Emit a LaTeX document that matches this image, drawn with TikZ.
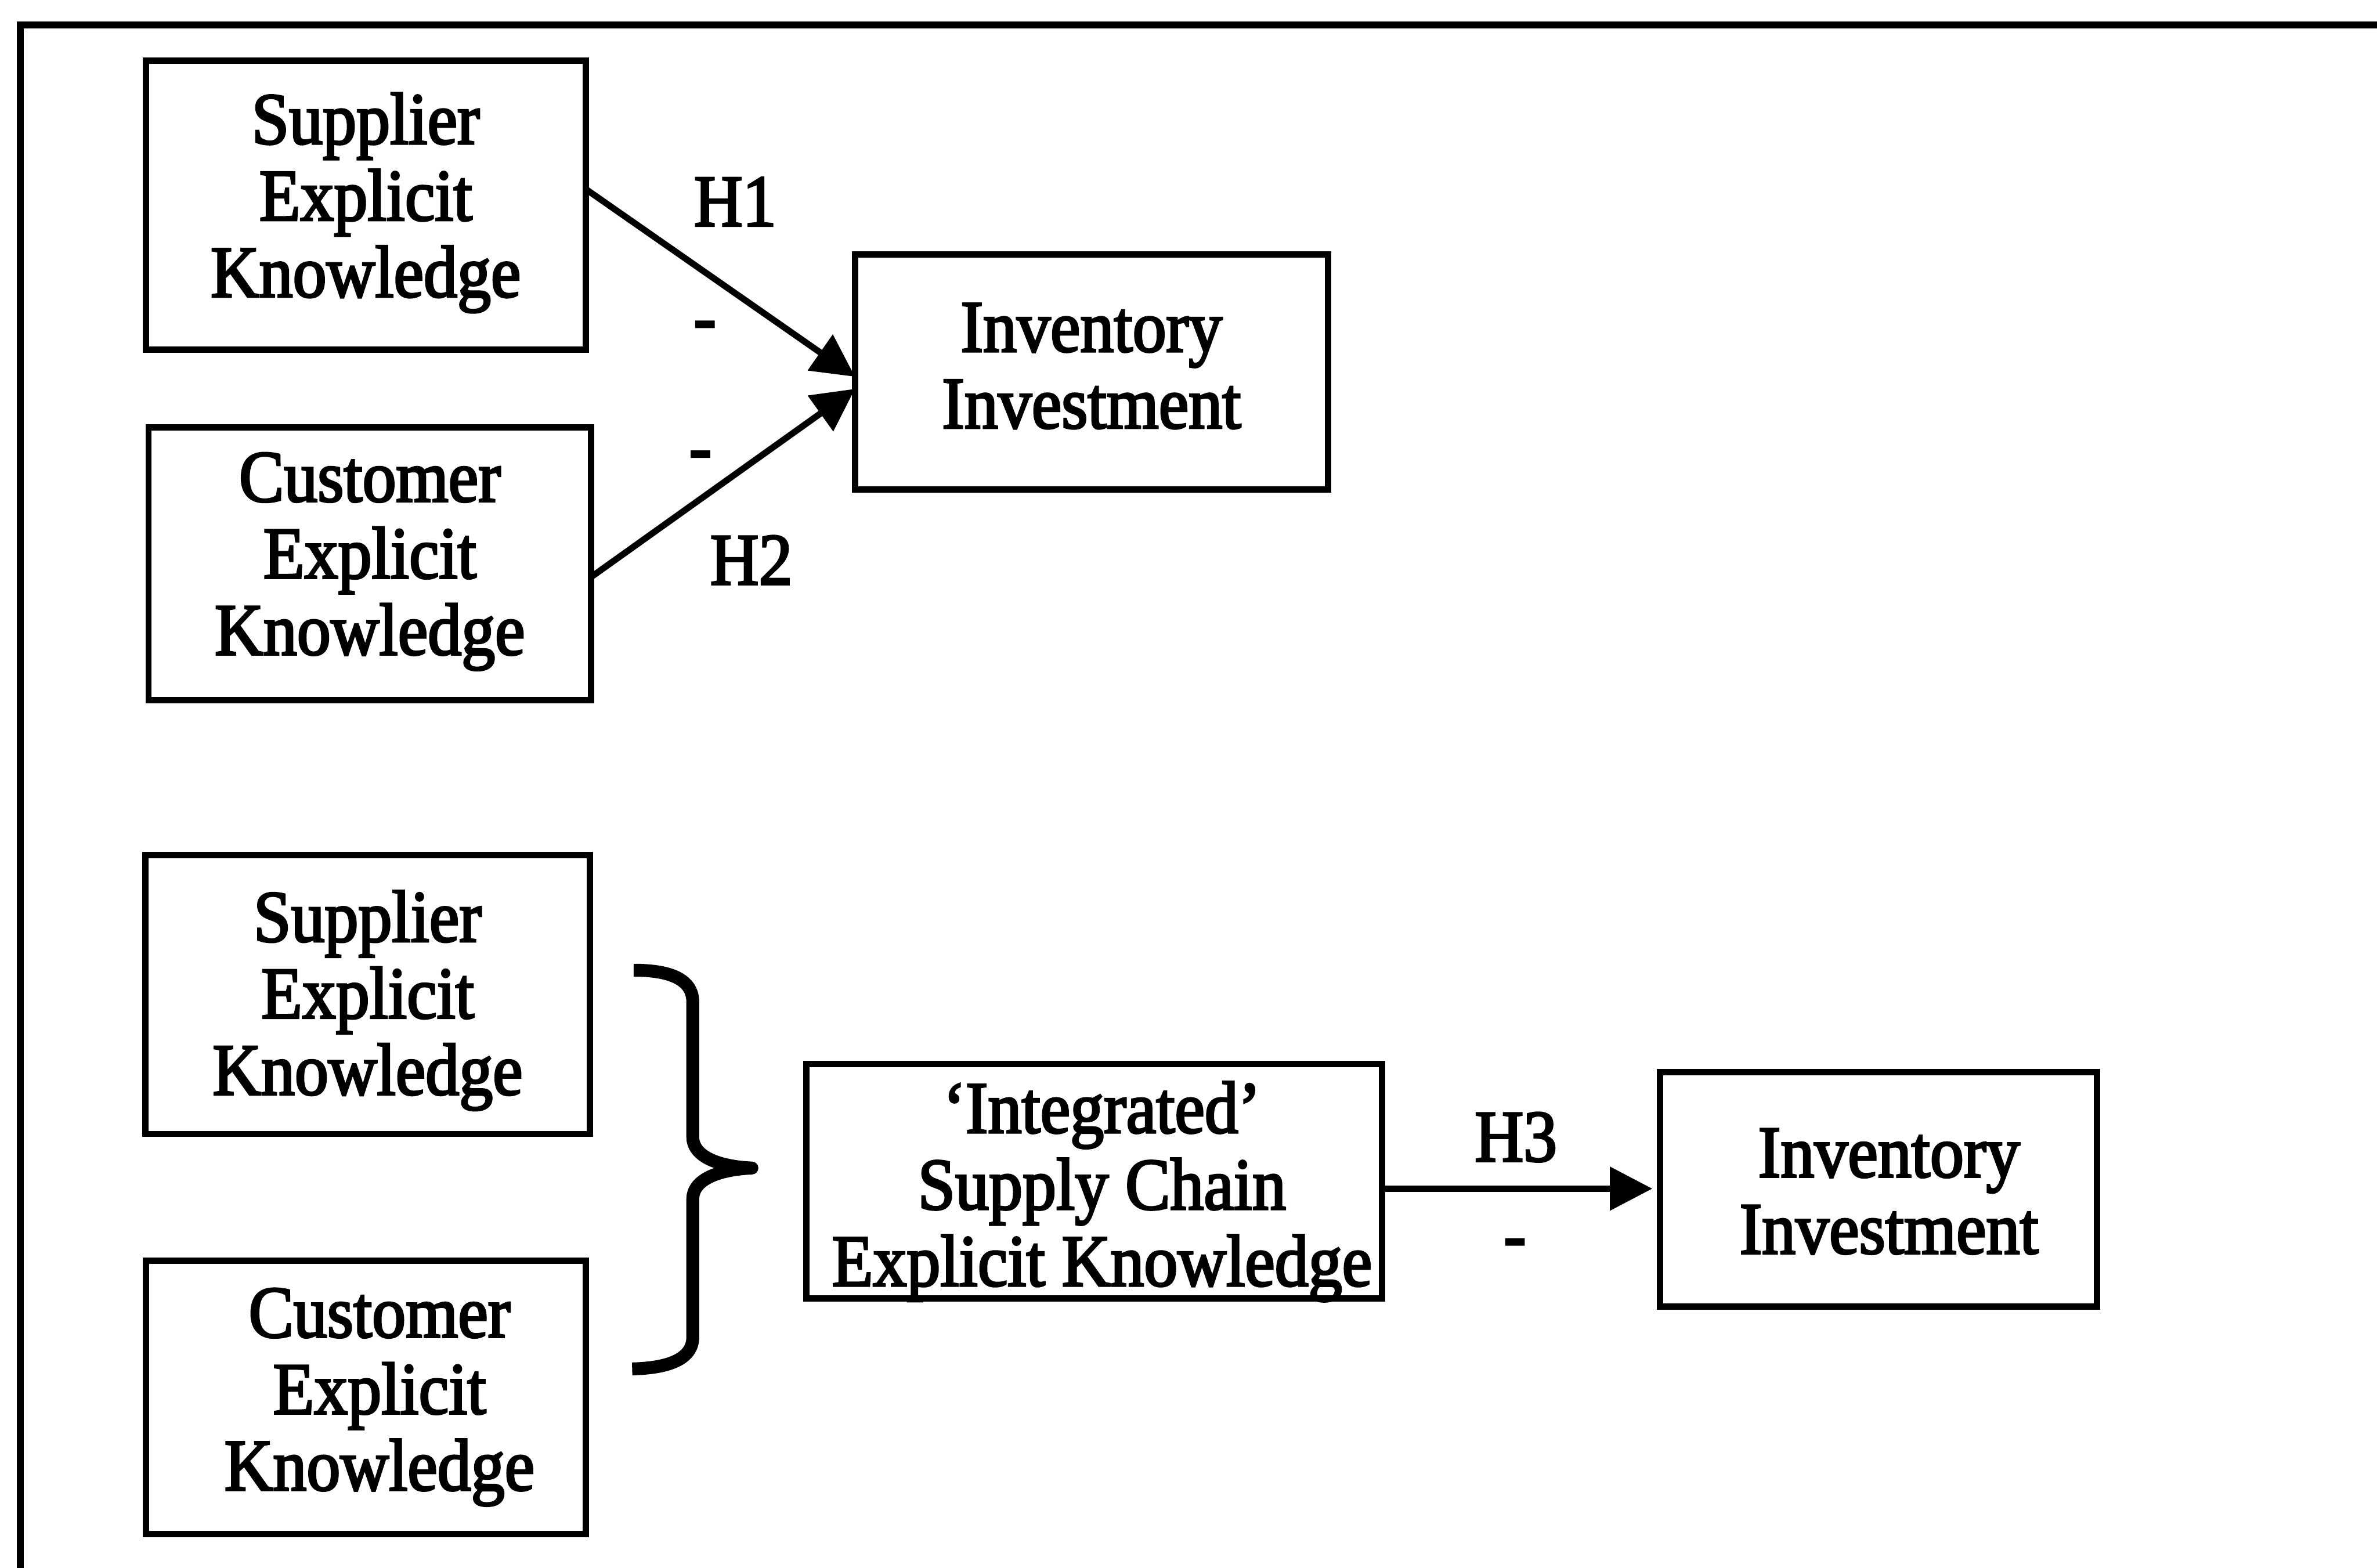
\documentclass[tikz,border=0pt]{standalone}
\usepackage{fontspec}
\setmainfont{Liberation Serif}[FakeStretch=0.915,FakeBold=2.8]
\usetikzlibrary{arrows.meta}
\begin{document}
\begin{tikzpicture}[x=1pt,y=-1pt,
  txt/.style={font=\fontsize{48.5}{50.5}\selectfont,inner sep=0pt,align=center},
  box/.style={draw,line width=4.2pt,inner sep=0pt,outer sep=0pt},
  lbl/.style={font=\fontsize{48.5}{50.5}\selectfont,inner sep=0pt,anchor=base},
  link/.style={line width=4.2pt,-{Triangle[length=28pt,width=28pt]}},
  frameline/.style={line width=4.8pt},
  bracestroke/.style={line width=8.5pt,line join=round}
]
\fill[white] (0,0) rectangle (1568,1034);
\useasboundingbox (0,0) rectangle (1568,1034);

% outer frame: top and left edges
\draw[frameline] (1575,16.5) -- (13.4,16.5) -- (13.4,1040);

% upper model: separate knowledge sources
\node[box,minimum width=290.3pt,minimum height=190.5pt] (sup1) at (241.25,135.25) {};
\node[txt] (sup1t) at ([yshift=1.5pt]sup1.center) {Supplier\\Explicit\\Knowledge};
\node[box,minimum width=292pt,minimum height=180pt] (cus1) at (244,372) {};
\node[txt] (cus1t) at ([yshift=1.5pt]cus1.center) {Customer\\Explicit\\Knowledge};
\node[box,minimum width=312pt,minimum height=155pt] (inv1) at (720,245.5) {};
\node[txt] (inv1t) at ([yshift=4pt]inv1.center) {Inventory\\Investment};

\draw[link] ([yshift=10.5pt]sup1.east) -- ([yshift=-3pt]inv1.west);
\draw[link] ([yshift=-8.6pt]cus1.east) -- ([yshift=-11pt]inv1.west);
\node[lbl] (h1) at (485,149) {H1};
\node[lbl] (h1s) at (465,225.4) {-};
\node[lbl] (h2s) at (462,311) {-};
\node[lbl] (h2) at (495.6,385.5) {H2};

% lower model: integrated knowledge
\node[box,minimum width=293pt,minimum height=184pt] (sup2) at (242.5,656) {};
\node[txt] (sup2t) at ([yshift=-4pt]sup2.center) {Supplier\\Explicit\\Knowledge};
\node[box,minimum width=290.3pt,minimum height=180.2pt] (cus2) at (241.35,921.7) {};
\node[txt] (cus2t) at ([xshift=9pt]cus2.center) {Customer\\Explicit\\Knowledge};
\node[box,minimum width=379.7pt,minimum height=154.8pt] (integ) at (721.9,779.1) {};
\node[txt] (integt) at ([xshift=5pt,yshift=-7pt]integ.center) {‘Integrated’\\Supply Chain\\Explicit Knowledge};
\node[box,minimum width=288.2pt,minimum height=154.9pt] (inv2) at (1239.1,784.5) {};
\node[txt] (inv2t) at ([xshift=7pt,yshift=-1.5pt]inv2.center) {Inventory\\Investment};

% brace joining the two sources
\draw[bracestroke] (418,640) .. controls (440,640) and (457,645) .. (457,661)
  -- (457,750) .. controls (457,763) and (474,769.5) .. (496,770.5)
  .. controls (474,771.5) and (457,778) .. (457,791)
  -- (457,882) .. controls (457,897) and (440,902.5) .. (417,903);

\coordinate (h3s) at ([yshift=-5pt]integ.east);
\coordinate (h3e) at (h3s -| inv2.west);
\draw[link,shorten >=5pt] (h3s) -- (h3e);
\node[lbl] (h3) at (1000,766) {H3};
\node[lbl] (h3m) at (999.3,830.7) {-};
\end{tikzpicture}
\end{document}
